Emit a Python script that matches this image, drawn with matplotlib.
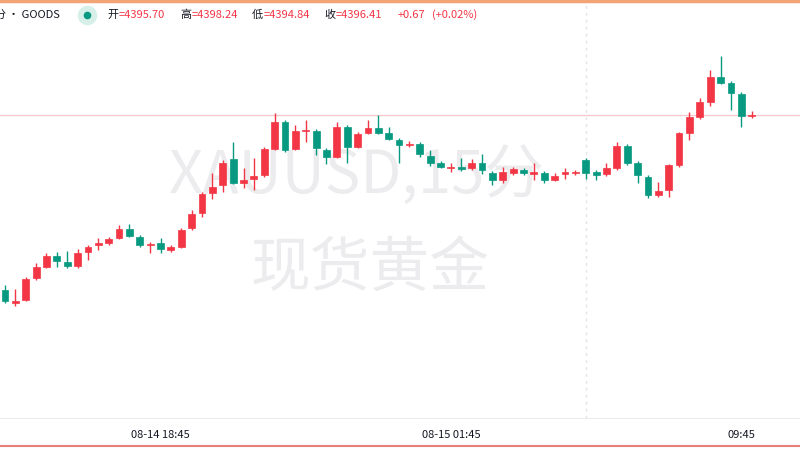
import matplotlib
matplotlib.use("Agg")
import matplotlib.pyplot as plt
from matplotlib.lines import Line2D

plt.rcParams['font.family'] = ['Noto Sans CJK SC', 'DejaVu Sans']

# 15 分钟 K 线 (开, 高, 低, 收)
opens = [4308.7, 4302.2, 4303.7, 4314.7, 4320.2, 4325.7, 4322.7, 4320.7, 4327.7, 4331.2,
         4332.2, 4334.7, 4339.2, 4335.2, 4331.2, 4332.2, 4328.7, 4330.2, 4339.7, 4347.2,
         4357.2, 4361.2, 4374.2, 4362.2, 4364.2, 4366.2, 4379.2, 4392.7, 4379.2, 4388.2,
         4388.2, 4378.7, 4375.2, 4390.2, 4380.2, 4387.2, 4389.7, 4387.2, 4383.7, 4381.2,
         4381.7, 4375.7, 4372.2, 4369.7, 4370.2, 4369.7, 4372.2, 4367.2, 4363.7, 4367.2,
         4368.7, 4366.7, 4367.2, 4363.7, 4366.7, 4367.2, 4373.7, 4367.7, 4366.7, 4369.7,
         4380.7, 4372.2, 4365.2, 4356.2, 4358.7, 4371.2, 4387.2, 4395.2, 4402.7, 4415.2,
         4412.2, 4406.7, 4395.70]
highs = [4311.2, 4309.2, 4315.2, 4322.2, 4327.2, 4327.7, 4328.2, 4329.2, 4331.2, 4334.7,
         4335.2, 4341.2, 4341.7, 4336.2, 4332.7, 4334.7, 4331.2, 4339.7, 4348.7, 4357.7,
         4367.2, 4373.7, 4382.7, 4369.7, 4374.7, 4380.2, 4397.2, 4393.7, 4391.2, 4393.7,
         4389.2, 4379.7, 4392.7, 4391.2, 4387.7, 4393.7, 4396.2, 4390.2, 4384.7, 4383.2,
         4382.7, 4378.7, 4373.2, 4372.2, 4374.7, 4374.2, 4376.7, 4368.2, 4370.2, 4370.2,
         4369.7, 4372.2, 4368.2, 4367.2, 4369.7, 4368.7, 4374.7, 4368.7, 4372.2, 4382.7,
         4381.7, 4373.2, 4366.2, 4362.7, 4371.7, 4387.7, 4397.7, 4404.7, 4418.7, 4425.7,
         4413.2, 4407.7, 4398.24]
lows = [4302.2, 4300.7, 4303.2, 4313.7, 4319.7, 4320.2, 4319.7, 4319.7, 4323.7, 4328.7,
        4331.2, 4334.2, 4335.2, 4330.2, 4327.2, 4327.2, 4327.7, 4329.7, 4338.7, 4345.2,
        4354.2, 4357.7, 4361.7, 4359.7, 4358.7, 4365.2, 4378.7, 4377.7, 4378.7, 4382.7,
        4376.2, 4371.7, 4374.7, 4372.2, 4379.7, 4386.7, 4386.7, 4383.7, 4372.2, 4380.2,
        4375.2, 4370.7, 4369.7, 4367.7, 4368.2, 4368.7, 4366.7, 4361.2, 4362.2, 4366.2,
        4366.2, 4363.7, 4362.2, 4363.2, 4364.2, 4366.2, 4364.2, 4363.7, 4365.7, 4368.7,
        4371.2, 4362.2, 4354.7, 4355.2, 4355.2, 4370.2, 4383.7, 4394.2, 4400.7, 4411.7,
        4398.7, 4390.2, 4394.84]
closes = [4303.2, 4303.2, 4314.2, 4320.2, 4325.7, 4323.2, 4320.7, 4327.2, 4330.2, 4332.2,
          4334.2, 4339.2, 4335.7, 4331.2, 4331.7, 4329.2, 4330.2, 4338.7, 4346.7, 4356.7,
          4360.2, 4372.2, 4362.2, 4363.7, 4365.7, 4379.2, 4392.7, 4378.7, 4388.2, 4388.7,
          4379.7, 4375.2, 4390.2, 4380.2, 4386.7, 4389.7, 4387.2, 4384.2, 4381.2, 4381.7,
          4376.7, 4372.2, 4370.2, 4370.2, 4369.2, 4372.2, 4368.7, 4363.7, 4367.7, 4369.2,
          4367.2, 4367.7, 4363.7, 4365.7, 4367.7, 4367.7, 4367.2, 4366.2, 4369.7, 4380.7,
          4372.2, 4366.2, 4356.2, 4358.2, 4371.2, 4387.2, 4395.2, 4402.7, 4415.2, 4412.2,
          4407.2, 4395.7, 4396.41]

tick_pos = [15, 43, 71]
tick_labels = ["08-14 18:45", "08-15 01:45", "09:45"]
session_break = 56
last_price = 4396.41

up_color = "#F23645"
down_color = "#089981"

fig = plt.figure(figsize=(8, 4.5), dpi=100)
ax = fig.add_axes([0, 32 / 450, 1, 418 / 450])

n = len(opens)
x = list(range(n))
colors = [up_color if c >= o else down_color for o, c in zip(opens, closes)]
bottoms = [min(o, c) for o, c in zip(opens, closes)]
heights = [max(abs(c - o), 0.6) for o, c in zip(opens, closes)]

ax.vlines(x, lows, highs, colors=colors, linewidth=1, zorder=3)
ax.bar(x, heights, bottom=bottoms, width=0.66, color=colors, edgecolor=colors,
       linewidth=0.5, zorder=4)

ax.axhline(last_price, color="#f6c9cc", linewidth=1, zorder=2)
ax.axvline(session_break, color="#e4e4e4", linewidth=1, linestyle=(0, (2, 3)), zorder=1)

# watermark
ax.text(357 / 800, 1 - 177 / 418, "XAUUSD,15分", transform=ax.transAxes,
        ha="center", va="center", fontsize=43, color="#ececee", zorder=0)
ax.text(370 / 800, 1 - 269 / 418, "现货黄金", transform=ax.transAxes,
        ha="center", va="center", fontsize=43, color="#ececee", zorder=0)

ax.set_xlim(-0.48, 76.66)
ax.set_ylim(4244.7, 4453.7)
ax.set_yticks([])
ax.set_xticks(tick_pos)
ax.set_xticklabels(tick_labels, fontsize=8, color="#131722")
ax.tick_params(axis="x", length=0, pad=9)
for side in ["top", "left", "right"]:
    ax.spines[side].set_visible(False)
ax.spines["bottom"].set_color("#ececec")

# header legend
hy = 1 - 15 / 450
fig.text(-5 / 800, hy, "分", fontsize=8, color="#131722", va="center")
fig.text(8 / 800, hy, "• GOODS", fontsize=8, color="#131722", va="center")
fig.add_artist(Line2D([87 / 800], [hy], marker="o", markersize=13,
                      color="#d7efe9", transform=fig.transFigure))
fig.add_artist(Line2D([87 / 800], [hy], marker="o", markersize=4.5,
                      color=down_color, transform=fig.transFigure))

renderer = fig.canvas.get_renderer()
pairs = [(107, "开", "=4395.70"), (180, "高", "=4398.24"), (252, "低", "=4394.84"),
         (324, "收", "=4396.41")]
for px, lab, val in pairs:
    t = fig.text(px / 800, hy, lab, fontsize=8, color="#131722", va="center")
    bb = t.get_window_extent(renderer)
    fig.text(bb.x1 / 800 + 0.5 / 800, hy, val, fontsize=8, color=up_color, va="center")
fig.text(398 / 800, hy, "+0.67", fontsize=8, color=up_color, va="center")
fig.text(432 / 800, hy, "(+0.02%)", fontsize=8, color=up_color, va="center")

fig.add_artist(Line2D([0, 1], [1 - 1 / 450, 1 - 1 / 450], color="#f2a477",
                      linewidth=2.5, transform=fig.transFigure))
fig.add_artist(Line2D([0, 1], [4 / 450, 4 / 450], color="#e77f7a",
                      linewidth=1.5, transform=fig.transFigure))

fig.savefig("out.png", dpi=100)
